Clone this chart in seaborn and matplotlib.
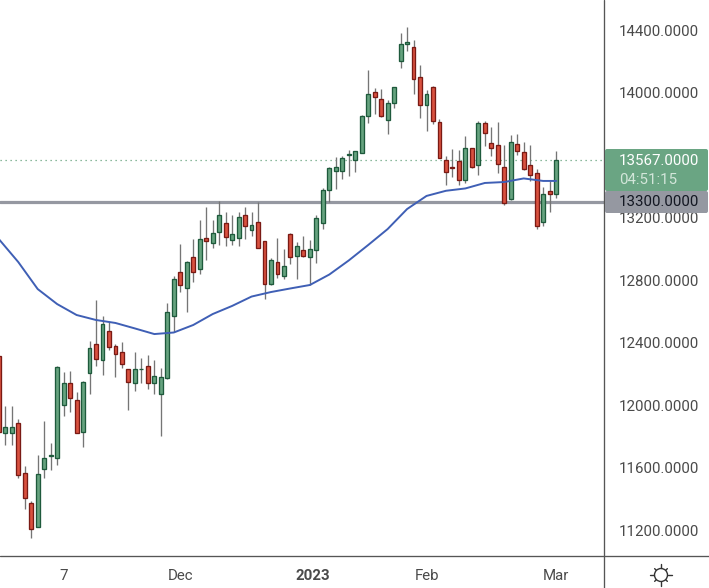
import numpy as np
import pandas as pd
import matplotlib
matplotlib.use("Agg")
import matplotlib.pyplot as plt
import seaborn as sns
from matplotlib.lines import Line2D
from matplotlib.patches import Circle, FancyBboxPatch
from matplotlib.transforms import Affine2D

# daily candles, first one is cut off by the left edge of the chart
opens = [12314, 11823, 11819, 11883, 11563, 11371, 11221, 11588, 11676, 11663, 12002, 12139, 12030, 11829, 12203,
         12388, 12290, 12471, 12375, 12337, 12228, 12139, 12228, 12247, 12139, 12073, 12175, 12572, 12849, 12747,
         12945, 12873, 13067, 13035, 13109, 13163, 13058, 13071, 13214, 13122, 13169, 13047, 12777, 12913, 12828,
         13092, 12956, 12990, 12949, 12990, 13167, 13378, 13500, 13500, 13602, 13570, 13615, 13852, 14001, 13956,
         13826, 13935, 14204, 14312, 14289, 14097, 13922, 14033, 13809, 13566, 13521, 13562, 13442, 13643, 13534,
         13803, 13675, 13662, 13521, 13316, 13668, 13617, 13534, 13483, 13169, 13367, 13348]
highs = [12330, 11994, 11994, 11910, 11610, 11386, 11680, 11898, 11755, 12250, 12209, 12218, 12081, 12154, 12410,
         12672, 12570, 12533, 12388, 12403, 12228, 12339, 12301, 12320, 12288, 12237, 12651, 12823, 13030, 12919,
         13062, 13184, 13267, 13184, 13306, 13235, 13216, 13235, 13267, 13235, 13299, 13050, 12941, 13069, 12998,
         13099, 13043, 13082, 13056, 13216, 13387, 13525, 13587, 13594, 13632, 13626, 13856, 14144, 14029, 14022,
         13952, 14035, 14379, 14419, 14336, 14176, 14016, 14042, 13828, 13594, 13638, 13632, 13722, 13643, 13818,
         13818, 13779, 13811, 13664, 13728, 13734, 13683, 13664, 13508, 13395, 13436, 13623]
lows = [11800, 11744, 11744, 11535, 11334, 11151, 11221, 11535, 11584, 11618, 11930, 11957, 11823, 11733, 12070,
        12250, 12192, 12352, 12179, 12237, 11968, 12090, 12141, 12102, 12070, 11802, 12166, 12469, 12723, 12597,
        12789, 12841, 12928, 13005, 13024, 13018, 13024, 13018, 13062, 13082, 13005, 12678, 12768, 12813, 12806,
        12902, 12806, 12947, 12768, 12909, 13129, 13301, 13382, 13446, 13466, 13491, 13611, 13805, 13860, 13845,
        13734, 13901, 14157, 14266, 13990, 13837, 13754, 13798, 13583, 13408, 13459, 13408, 13421, 13517, 13472,
        13658, 13594, 13485, 13280, 13312, 13600, 13504, 13436, 13126, 13146, 13235, 13325]
closes = [11827, 11857, 11857, 11550, 11403, 11209, 11556, 11659, 11678, 12241, 12139, 12047, 11823, 12145, 12363,
          12292, 12516, 12373, 12329, 12265, 12145, 12228, 12233, 12139, 12183, 12177, 12593, 12804, 12770, 12913,
          12849, 13060, 13052, 13099, 13214, 13077, 13092, 13201, 13148, 13150, 13007, 12777, 12926, 12841, 12887,
          12949, 13015, 12956, 12996, 13195, 13374, 13515, 13521, 13579, 13606, 13623, 13847, 13988, 13973, 13852,
          13931, 14033, 14308, 14321, 14089, 13922, 13988, 13820, 13583, 13493, 13515, 13438, 13643, 13525, 13803,
          13743, 13647, 13540, 13291, 13681, 13628, 13508, 13470, 13143, 13348, 13353, 13567]

ma_days = [-1, 2, 5, 8, 11, 14, 17, 20, 23, 26, 29, 32, 35, 38, 41, 44, 47, 50, 53, 56, 59, 62, 65, 68, 71, 74, 77,
           80, 83, 85]
ma_vals = [13062, 12915, 12742, 12646, 12576, 12544, 12525, 12490, 12454, 12464, 12512, 12582, 12634, 12694, 12723,
           12746, 12768, 12835, 12925, 13024, 13126, 13254, 13338, 13371, 13386, 13421, 13427, 13450, 13434, 13434]

price_ticks = [11200, 11600, 12000, 12400, 12800, 13200, 13600, 14000, 14400]
date_ticks = [9, 27, 47.5, 65, 85]
date_labels = ["7", "Dec", "2023", "Feb", "Mar"]
last_price = 13567
level_price = 13300
countdown = "04:51:15"

GREEN = "#66a37f"
GREEN_EDGE = "#1e5a3c"
RED = "#d9513f"
RED_EDGE = "#7a1a14"
LEVEL = "#9598a1"
TEXT = "#4a4a4a"

sns.set_style("white")
plt.rcParams["font.family"] = ["Roboto", "DejaVu Sans"]
plt.rcParams["font.size"] = 10.8

df = pd.DataFrame({"day": np.arange(len(opens)) - 1, "open": opens, "high": highs, "low": lows, "close": closes})
df["up"] = df["close"] >= df["open"]

W, H = 709, 588
fig = plt.figure(figsize=(W / 100, H / 100), dpi=100)
ax = fig.add_axes([0, (H - 556) / H, 604 / W, 556 / H])

# horizontal levels go under the candles
ax.axhline(level_price, color=LEVEL, lw=2.3, zorder=1)
ax.axhline(last_price, color=GREEN, lw=0.9, ls=(0, (1, 3)), zorder=1)

ax.vlines(df["day"], df["low"], df["high"], color="#757575", lw=0.95, zorder=2)
ax.bar(df["day"], (df["close"] - df["open"]).abs(), bottom=df[["open", "close"]].min(axis=1), width=0.6,
       color=df["up"].map({True: GREEN, False: RED}), edgecolor=df["up"].map({True: GREEN_EDGE, False: RED_EDGE}),
       linewidth=0.95, zorder=3)

ma = pd.DataFrame({"day": ma_days, "ma": ma_vals})
sns.lineplot(data=ma, x="day", y="ma", ax=ax, color="#3f5fb5", lw=1.4, zorder=4)

ax.set_xlim(-0.818, 92.39)
ax.set_ylim(11033.6, 14592)
ax.set_xlabel("")
ax.set_ylabel("")
for side in ["top", "left", "right", "bottom"]:
    ax.spines[side].set_visible(False)

ax.yaxis.tick_right()
ax.set_yticks(price_ticks)
ax.set_yticklabels([f"{p}.0000" for p in price_ticks])
ax.set_xticks(date_ticks)
ax.set_xticklabels(date_labels)
ax.tick_params(axis="y", length=0, pad=10.8, labelsize=10.8, labelcolor=TEXT)
ax.tick_params(axis="x", length=0, pad=9, labelsize=10.8, labelcolor=TEXT)
ax.get_xticklabels()[2].set_fontweight("bold")

# everything outside the plot area is placed in pixels, y counted from the top
px = Affine2D().scale(1, -1).translate(0, H).scale(1 / W, 1 / H) + fig.transFigure

fig.add_artist(Line2D([604, 604], [0, 588], color="#555555", lw=0.95, transform=px, zorder=5))
fig.add_artist(Line2D([0, 709], [556, 556], color="#555555", lw=0.95, transform=px, zorder=5))

fig.add_artist(FancyBboxPatch((605, 149), 103, 42, boxstyle="round,pad=0,rounding_size=2", fc="#6aa583", ec="none",
                              transform=px, zorder=6))
fig.add_artist(FancyBboxPatch((605, 191), 103, 22, boxstyle="round,pad=0,rounding_size=2", fc=LEVEL, ec="none",
                              transform=px, zorder=7))
fig.text(619, 161, f"{last_price}.0000", color="white", fontsize=10.8, va="center", ha="left", transform=px, zorder=8)
fig.text(619, 180, countdown, color="#d3e6da", fontsize=10.8, va="center", ha="left", transform=px, zorder=8)
fig.text(619, 202, f"{level_price}.0000", color="#131722", fontsize=10.8, va="center", ha="left", transform=px,
         zorder=8)

# sun icon of the theme switch
fig.add_artist(Circle((661, 575), 6.5, fc="none", ec="#333333", lw=1.0, transform=px, zorder=5))
for ang, r0, r1 in [(0, 7, 11), (90, 7, 11), (180, 7, 11), (270, 7, 11)]:
    a = np.deg2rad(ang)
    fig.add_artist(Line2D([661 + r0 * np.cos(a), 661 + r1 * np.cos(a)], [575 + r0 * np.sin(a), 575 + r1 * np.sin(a)],
                          color="#333333", lw=1.0, transform=px, zorder=5))
for ang in [45, 135, 225, 315]:
    a = np.deg2rad(ang)
    fig.add_artist(Line2D([661 + 6.5 * np.cos(a), 661 + 9 * np.cos(a)], [575 + 6.5 * np.sin(a), 575 + 9 * np.sin(a)],
                          color="#333333", lw=1.0, transform=px, zorder=5))

fig.savefig("out.png", dpi=100)
